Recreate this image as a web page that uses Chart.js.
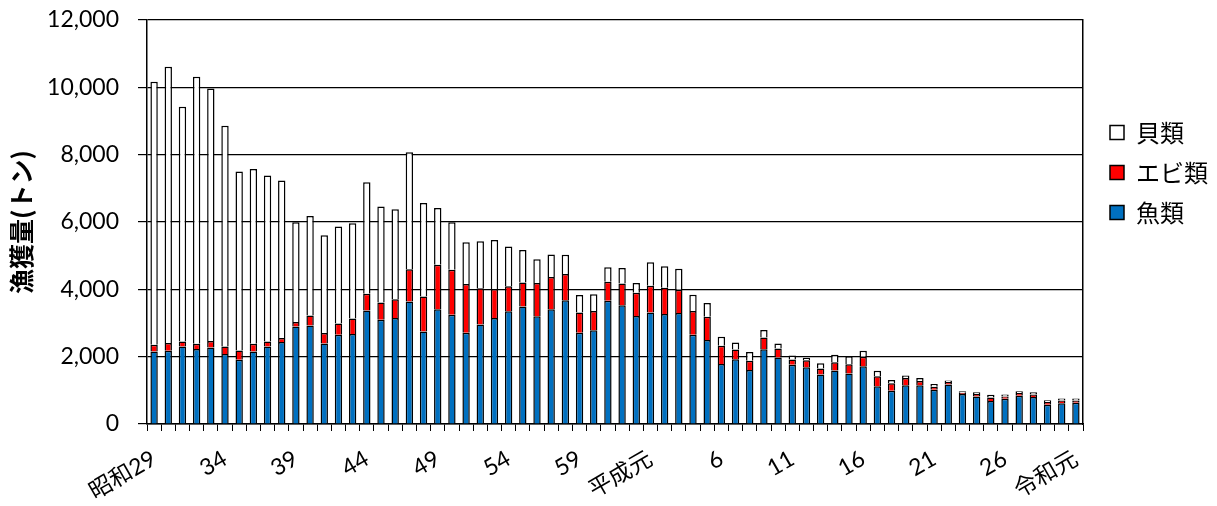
<!DOCTYPE html>
<html>
<head>
<meta charset="utf-8">
<script src="https://cdn.jsdelivr.net/npm/chart.js@4/dist/chart.umd.min.js"></script>
<style>
  html, body { margin: 0; padding: 0; background: #fff; }
  #wrap { width: 1217px; height: 506px; }
</style>
</head>
<body>
<div id="wrap"><canvas id="catchChart"></canvas></div>
<script>
// 年 (昭和29 = 1954 〜 令和元 = 2019)
const categories = [
  '昭和29','30','31','32','33','34','35','36','37','38',
  '39','40','41','42','43','44','45','46','47','48',
  '49','50','51','52','53','54','55','56','57','58',
  '59','60','61','62','63','平成元','2','3','4','5',
  '6','7','8','9','10','11','12','13','14','15',
  '16','17','18','19','20','21','22','23','24','25',
  '26','27','28','29','30','令和元'
];

// 表示する目盛ラベル (5年おき)
const tickLabels = ['昭和29','34','39','44','49','54','59','平成元','6','11','16','21','26','令和元'];

// 漁獲量 (トン)
const fish = [
  2156,2176,2304,2225,2275,2077,1909,2156,2304,2433,
  2898,2927,2393,2650,2670,3372,3096,3145,3639,2749,
  3412,3244,2709,2955,3152,3349,3487,3201,3408,3674,
  2709,2788,3664,3526,3211,3310,3270,3300,2650,2492,
  1783,1921,1606,2224,1976,1758,1688,1470,1589,1499,
  1718,1122,990,1150,1150,1015,1170,890,820,680,
  750,840,800,575,620,630
];
const shrimp = [
  200,227,149,158,188,227,277,227,149,119,
  128,297,307,337,465,495,514,564,960,1039,
  1315,1335,1448,1074,857,739,719,985,956,778,
  601,571,562,650,690,797,778,689,709,690,
  542,295,275,348,268,158,209,178,248,278,
  278,298,220,220,125,90,75,35,70,105,
  70,80,75,80,75,65
];
const shellfish = [
  7813,8209,6972,7932,7506,6557,5311,5193,4925,4678,
  2967,2957,2908,2878,2829,3313,2848,2670,3471,2779,
  1691,1414,1241,1398,1458,1182,965,709,669,572,
  522,492,433,454,285,700,641,621,483,413,
  266,207,256,218,149,120,69,159,219,239,
  179,159,100,70,90,85,50,45,50,85,
  55,55,65,50,65,65
];

const yTicks = [0, 2000, 4000, 6000, 8000, 10000, 12000];

const numFont = "Lato, 'Noto Sans CJK JP', sans-serif";
const jpFont = "'Noto Sans CJK JP', sans-serif";

new Chart(document.getElementById('catchChart'), {
  type: 'bar',
  data: {
    labels: categories,
    datasets: [
      { label: '魚類', data: fish, backgroundColor: '#0070C0', borderColor: '#000', borderWidth: 1.5 },
      { label: 'エビ類', data: shrimp, backgroundColor: '#FF0000', borderColor: '#000', borderWidth: 1.5 },
      { label: '貝類', data: shellfish, backgroundColor: '#FFFFFF', borderColor: '#000', borderWidth: 1.5 }
    ]
  },
  options: {
    responsive: true,
    maintainAspectRatio: false,
    animation: false,
    devicePixelRatio: 1,
    layout: { padding: { top: 20, right: 0, bottom: 0, left: 0 } },
    datasets: { bar: { barPercentage: 0.52, categoryPercentage: 1.0 } },
    plugins: {
      tooltip: { enabled: false },
      legend: {
        position: 'right',
        align: 'start',
        reverse: true,
        maxWidth: 123,
        title: { display: true, text: ' ', padding: { top: 70, bottom: 0 } },
        labels: {
          color: '#000',
          boxWidth: 14,
          boxHeight: 14,
          padding: 16,
          font: { family: jpFont, size: 24 }
        }
      }
    },
    scales: {
      x: {
        stacked: true,
        afterFit: function (axis) {
          axis.height = 82;
          axis.paddingLeft = 0;
          axis.paddingRight = 0;
        },
        grid: { offset: true, drawOnChartArea: false, color: '#000', tickLength: 7, lineWidth: 1 },
        border: { color: '#000', width: 1.5 },
        ticks: {
          autoSkip: false,
          maxRotation: 30,
          minRotation: 30,
          color: '#000',
          padding: 14,
          font: { family: numFont, size: 23 },
          callback: function (value, index) {
            const lab = categories[index];
            return tickLabels.includes(lab) && index % 5 === 0 ? lab : '';
          }
        }
      },
      y: {
        stacked: true,
        min: 0,
        max: 12000,
        afterBuildTicks: function (axis) { axis.ticks = yTicks.map(v => ({ value: v })); },
        afterFit: function (axis) {
          axis.width = 147;
          axis.paddingTop = 0;
          axis.paddingBottom = 0;
        },
        grid: { color: '#000', lineWidth: 1.2, tickLength: 9 },
        border: { color: '#000', width: 1.5 },
        ticks: {
          color: '#000',
          padding: 19,
          font: { family: numFont, size: 23 },
          callback: v => v.toLocaleString('en-US')
        },
        title: {
          display: true,
          text: '漁獲量(トン)',
          color: '#000',
          font: { family: jpFont, size: 25, weight: 'bold' },
          padding: { top: 6, bottom: 6 }
        }
      },
      y2: {
        position: 'right',
        min: 0,
        max: 12000,
        afterFit: function (axis) {
          axis.width = 11;
          axis.paddingTop = 0;
          axis.paddingBottom = 0;
        },
        grid: { drawOnChartArea: false, drawTicks: false },
        border: { color: '#000', width: 1.5 },
        ticks: { display: false }
      }
    }
  }
});
</script>
</body>
</html>
